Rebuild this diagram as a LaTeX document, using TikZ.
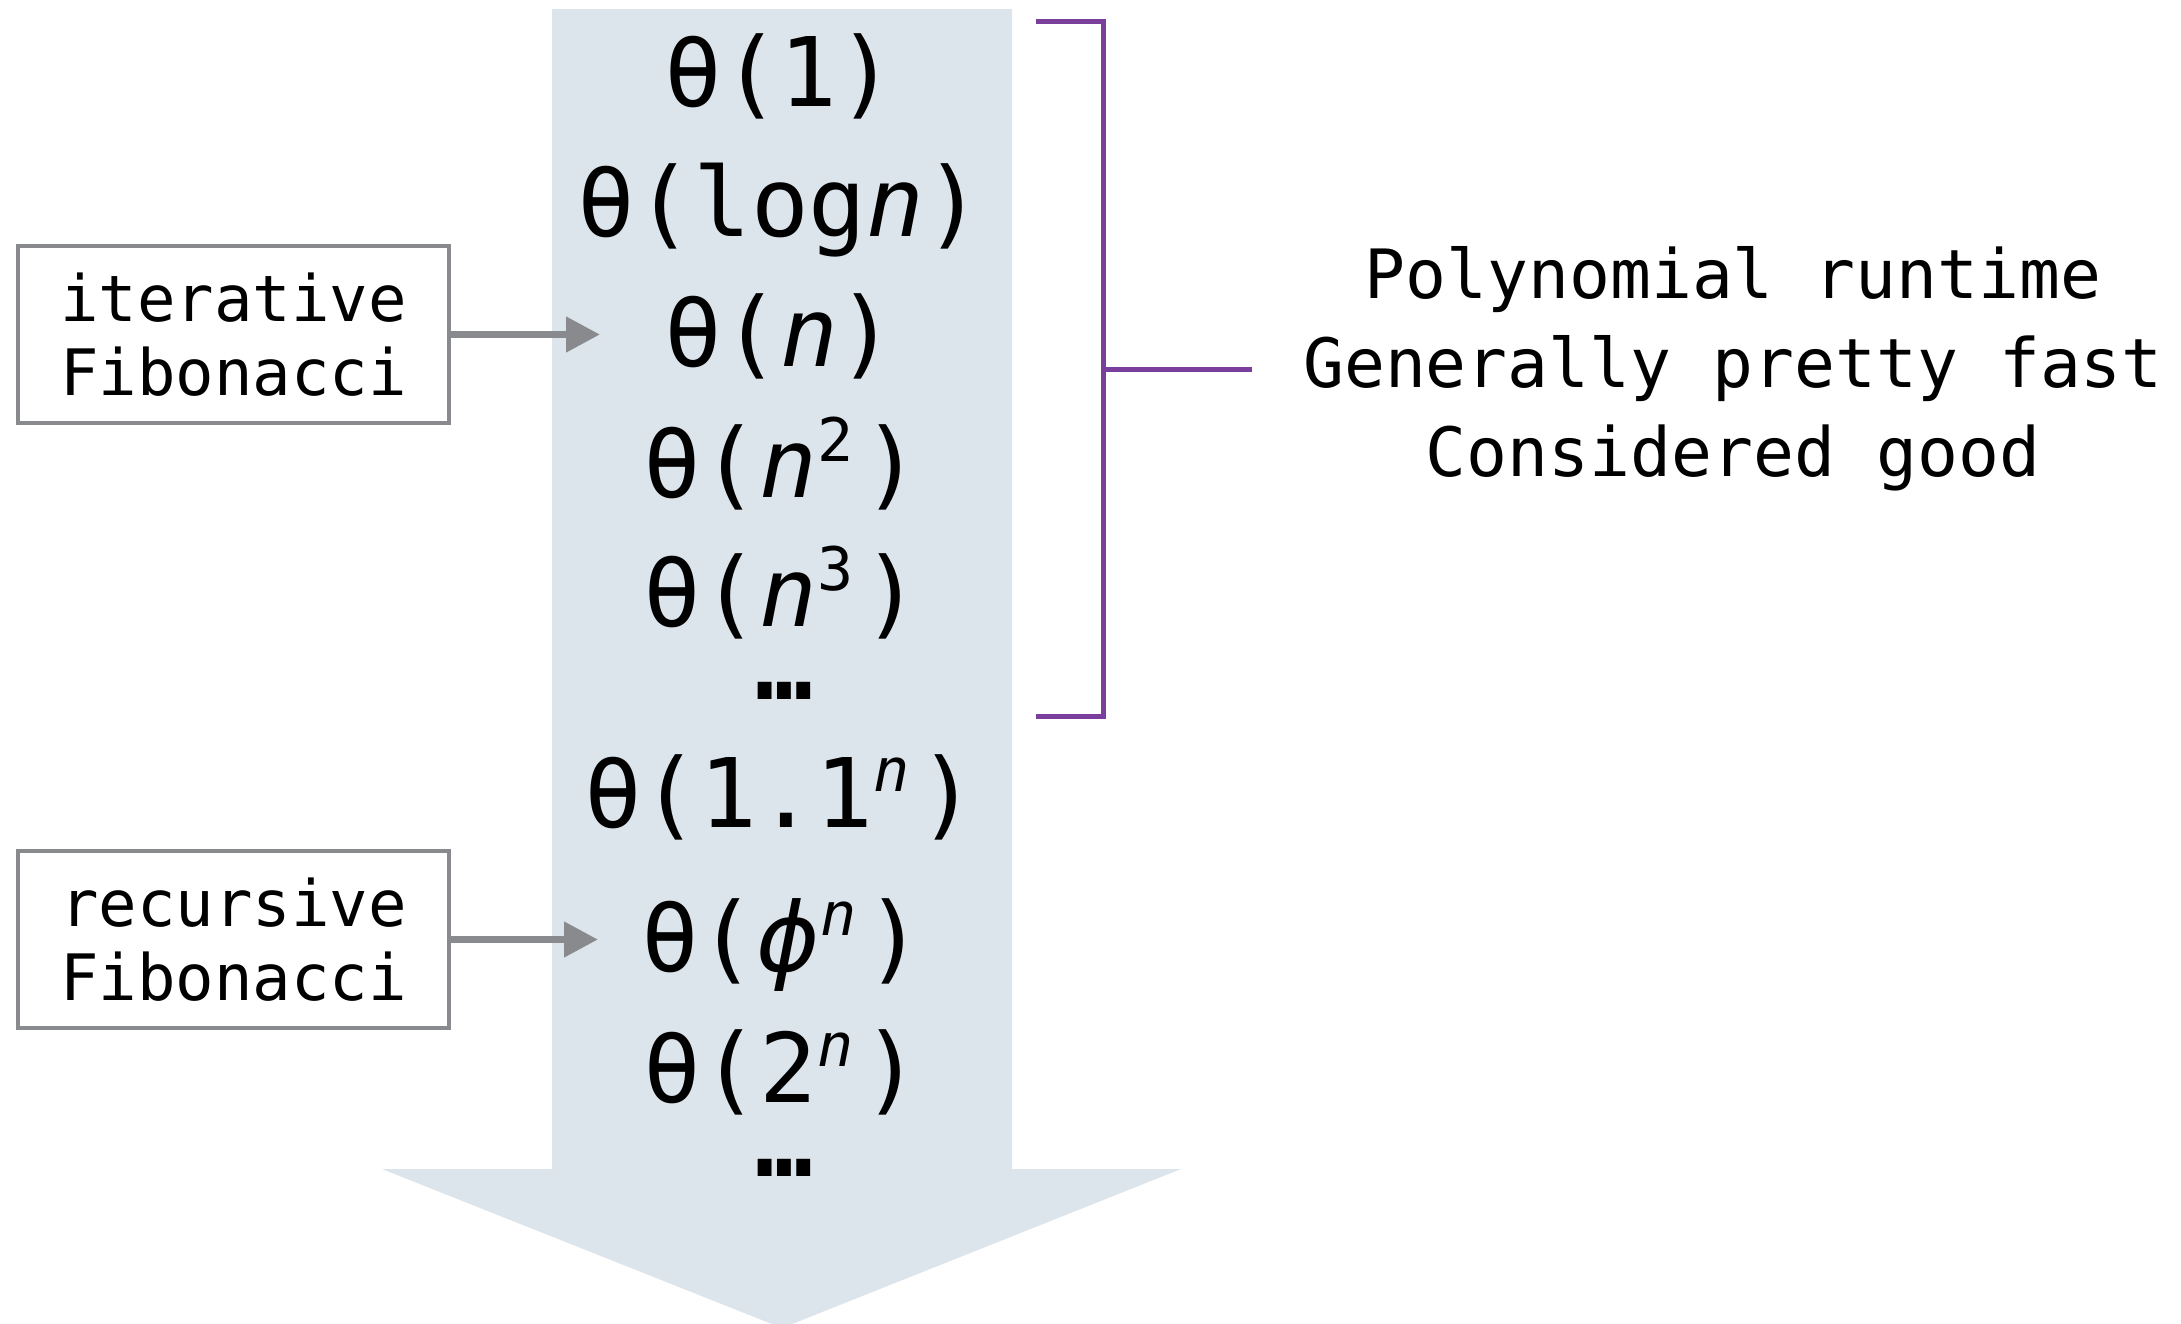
\documentclass[tikz,border=0pt]{standalone}
\usepackage{fontspec}
\setmainfont{DejaVu Sans Mono}
\newfontfamily\dvs{DejaVu Sans}
\usetikzlibrary{arrows.meta}
\definecolor{shaftcol}{RGB}{220,228,236}
\definecolor{boxgray}{RGB}{137,138,142}
\definecolor{brk}{RGB}{122,62,157}
\newcommand\sx[1]{\raisebox{0.37em}{\fontsize{60}{60}\selectfont #1}\kern 9pt}
\newcommand\bigf{\fontsize{96}{110}\selectfont}
\begin{document}
\begin{tikzpicture}[x=1pt,y=-1pt,
  runtime/.style={anchor=base, inner sep=0pt, font=\bigf},
  fibbox/.style={draw=boxgray, line width=4.5pt, fill=white, minimum width=431pt, minimum height=177pt, inner sep=0pt, align=center, font=\fontsize{64}{74}\selectfont},
  conn/.style={draw=boxgray, line width=7.5pt, -{Triangle[length=34pt,width=34pt]}},
  brace/.style={draw=brk, line width=5pt},
  note/.style={align=center, inner sep=0pt, font=\fontsize{68}{89}\selectfont}]
\useasboundingbox (0,0) rectangle (2181,1323);
\fill[white] (0,0) rectangle (2181,1323);
\fill[shaftcol] (552,9) -- (1012,9) -- (1012,1169) -- (1181,1169) -- (782,1328) -- (382,1169) -- (552,1169) -- cycle;
\node[runtime] (r1) at (780,106) {θ(1)};
\node[runtime] (r2) at (780,236) {θ(log\textit{n})};
\node[runtime] (r3) at (780,366) {θ(\textit{n})};
\node[runtime] (r4) at (782,497) {θ(\textit{n}\sx{2})};
\node[runtime] (r5) at (782,626) {θ(\textit{n}\sx{3})};
\node[runtime, font=\bigf\bfseries] (d1) at (784,699) {…};
\node[runtime] (r6) at (780,827) {θ(1.1\sx{\textit{n}})};
\node[runtime] (r7) at (782,971) {θ({\dvs\itshape ϕ}\sx{\textit{n}})};
\node[runtime] (r8) at (782,1102) {θ(2\sx{\textit{n}})};
\node[runtime, font=\bigf\bfseries] (d2) at (784,1176) {…};
\node[fibbox] (it) at (233.5,334.5) {iterative\\Fibonacci};
\node[fibbox] (rec) at (233.5,939.5) {recursive\\Fibonacci};
\coordinate (itend) at (600,334.5);
\coordinate (recend) at (598,939.5);
\draw[conn] (it.east) -- (itend);
\draw[conn] (rec.east) -- (recend);
\coordinate (bt) at (1036,21.5);
\coordinate (bb) at (1036,716);
\coordinate (bm) at (1252,369);
\draw[brace] (bt) -- (1103.5,21.5) -- (1103.5,716) -- (bb);
\draw[brace] (1103.5,369) -- (bm);
\node[note] (nt) at (1733,369) {Polynomial runtime\\Generally pretty fast\\Considered good};
\end{tikzpicture}
\end{document}
